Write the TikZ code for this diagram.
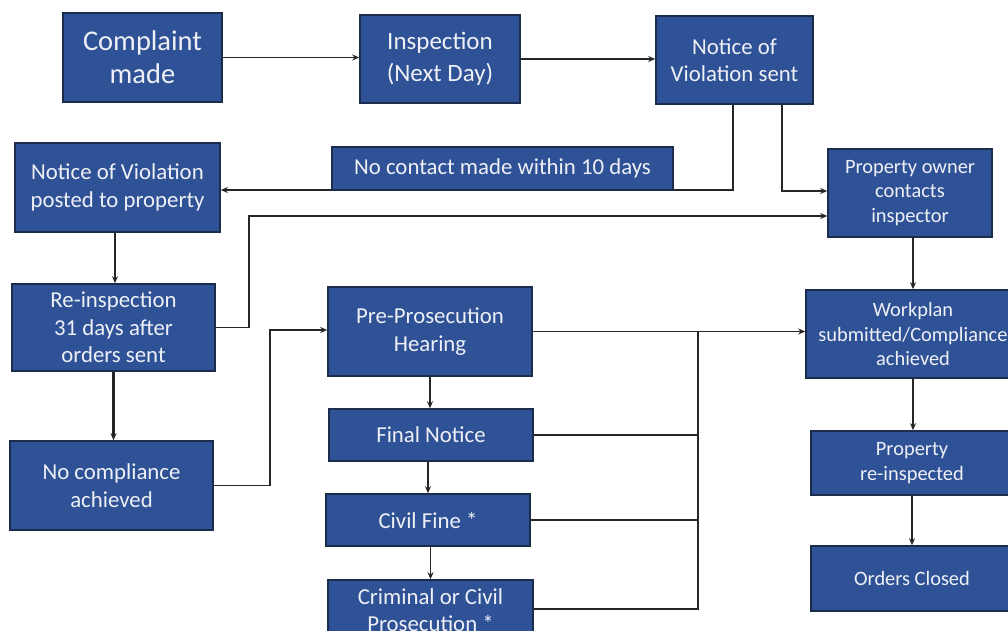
\documentclass[tikz,border=0pt]{standalone}
\usepackage{fontspec}
\setmainfont{Carlito}
\usetikzlibrary{arrows.meta}
\definecolor{boxblue}{HTML}{2F5296}
\definecolor{boxedge}{HTML}{1C2C4C}
\definecolor{boxtext}{HTML}{EEF0F6}
\definecolor{linec}{HTML}{262626}
\tikzset{
  box/.style={rectangle, fill=boxblue, draw=boxedge, line width=1.6pt, text=boxtext,
    align=center, inner sep=0pt, font=\fontsize{22.8}{27.5}\selectfont},
  smallbox/.style={box, font=\fontsize{20.4}{24.5}\selectfont},
  conn/.style={draw=linec, line width=1.8pt, -{Stealth[length=7pt,width=6pt]}},
  thickconn/.style={conn, line width=2.8pt},
  bus/.style={draw=linec, line width=1.8pt}
}
\begin{document}
\begin{tikzpicture}[x=1pt,y=-1pt]
\useasboundingbox (0,0) rectangle (1008,631);
\fill[white] (0,0) rectangle (1008,631);

\node[box, minimum width=159pt, minimum height=89pt, font=\fontsize{28.5}{33}\selectfont] (complaint) at (142.5,57.5) {Complaint\\made};
\node[box, minimum width=160pt, minimum height=88pt, font=\fontsize{25}{32}\selectfont] (inspection) at (440,59) {Inspection\\(Next Day)};
\node[box, minimum width=157pt, minimum height=88pt] (novsent) at (734.5,60) {Notice of\\Violation sent};
\node[box, minimum width=205pt, minimum height=89pt] (posted) at (117.5,187.5) {Notice of Violation\\posted to property};
\node[smallbox, minimum width=164pt, minimum height=88pt] (owner) at (910,193) {Property owner\\contacts\\inspector};
\node[box, minimum width=203pt, minimum height=87pt] (reinsp) at (113.5,327.5) {Re-inspection\\31 days after\\orders sent};
\node[box, minimum width=204pt, minimum height=89pt] (prepros) at (430,331.5) {Pre-Prosecution\\Hearing};
\node[smallbox, minimum width=214pt, minimum height=88pt] (workplan) at (913,334) {Workplan\\submitted/Compliance\\achieved};
\node[box, minimum width=204pt, minimum height=52pt] (final) at (431,435) {Final Notice};
\node[box, minimum width=204pt, minimum height=52pt] (civil) at (428,520) {Civil Fine *};
\node[box, minimum width=205pt, minimum height=60pt] (criminal) at (430.5,610) {Criminal or Civil\\Prosecution *};
\node[box, minimum width=203pt, minimum height=89pt] (nocomp) at (111.5,485.5) {No compliance\\achieved};
\node[smallbox, minimum width=202pt, minimum height=64pt] (reinspected) at (912,463) {Property\\re-inspected};
\node[smallbox, minimum width=202pt, minimum height=65pt] (closed) at (912,578.5) {Orders Closed};

\coordinate (a) at (733,190);
\coordinate (b) at (782,191);
\coordinate (c) at (249,216);
\coordinate (d) at (270,330);
\coordinate (e) at (698,609);
\coordinate (px) at (115,0);

% top row
\draw[conn] (complaint.east) -- (complaint.east -| inspection.west);
\draw[conn] (inspection.east) -- (inspection.east -| novsent.west);
% no contact branch
\draw[conn, line width=2.8pt] (novsent.south -| a) -- (a) -- (a -| posted.east);
\node[box, minimum width=341pt, minimum height=43pt] (nocontact) at (502.5,168.5) {No contact made within 10 days};
\draw[conn, line width=2.8pt] (novsent.south -| b) -- (b) -- (b -| owner.west);
% re-inspection to owner
\draw[conn] (reinsp.east) -- (reinsp.east -| c) -- (c) -- (c -| owner.west);
% left column
\draw[conn] (posted.south -| px) -- (reinsp.north -| px);
\draw[thickconn] (reinsp.south) -- (reinsp.south |- nocomp.north);
\draw[conn] (nocomp.east) -- (nocomp.east -| d) -- (d) -- (d -| prepros.west);
% middle column
\draw[conn] (prepros.south) -- (prepros.south |- final.north);
\draw[thickconn] (civil.north |- final.south) -- (civil.north);
\draw[conn] (criminal.north |- civil.south) -- (criminal.north);
\draw[conn] (prepros.east) -- (prepros.east -| workplan.west);
\draw[bus] (final.east) -- (final.east -| e);
\draw[bus] (civil.east) -- (civil.east -| e);
\draw[bus] (criminal.east |- e) -- (e) -- (prepros.east -| e);
% right column
\draw[conn] (workplan.north |- owner.south) -- (workplan.north);
\draw[conn] (workplan.south) -- (workplan.south |- reinspected.north);
\draw[conn] (reinspected.south) -- (closed.north);
\end{tikzpicture}
\end{document}
